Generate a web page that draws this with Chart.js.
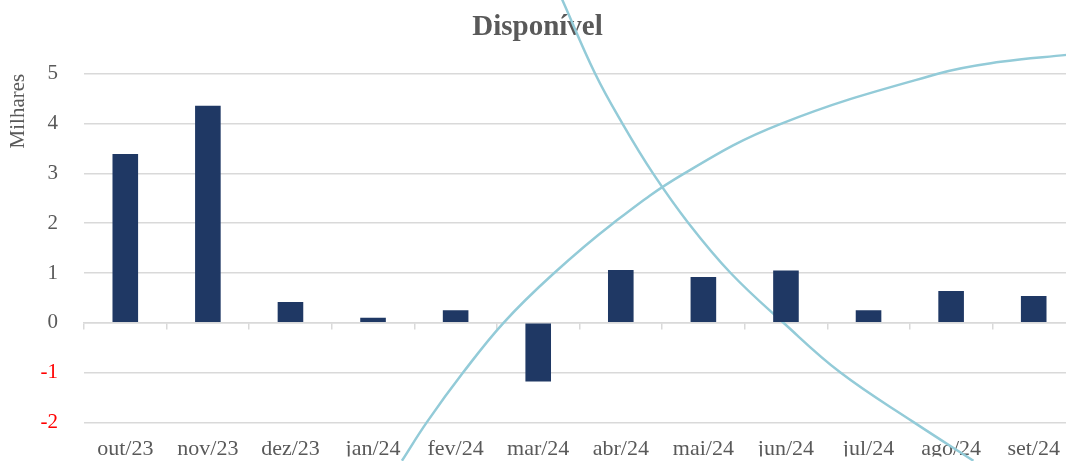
<!DOCTYPE html>
<html>
<head>
<meta charset="utf-8">
<script src="https://cdn.jsdelivr.net/npm/chart.js@4"></script>
<style>
  html, body { margin: 0; padding: 0; background: #fff; overflow: hidden; }
  #wrap { position: relative; width: 1075px; height: 461px; }
</style>
</head>
<body>
<div id="wrap"><canvas id="chart"></canvas></div>
<script>
// Chart data

const categories = ['out/23', 'nov/23', 'dez/23', 'jan/24', 'fev/24', 'mar/24',
                    'abr/24', 'mai/24', 'jun/24', 'jul/24', 'ago/24', 'set/24'];
const disponivel = [3.39, 4.36, 0.42, 0.1, 0.25, -1.18, 1.06, 0.92, 1.05, 0.25, 0.64, 0.54];
const yTicks = [-2, -1, 0, 1, 2, 3, 4, 5];

// Decorative curves, x in category units, y in thousands
const curveDownX = [5.29, 5.69, 6.02, 6.39, 6.82, 7.33, 7.97, 8.66, 9.55, 10.27];
const curveDownY = [6.49, 5.0, 4.0, 3.0, 2.0, 1.0, 0.0, -1.0, -2.0, -2.77];
const curveUpX = [3.35, 3.65, 4.09, 4.58, 5.18, 5.9, 6.76, 7.93, 9.84, 10.6, 11.4];
const curveUpY = [-2.77, -2.0, -1.0, 0.0, 0.98, 1.99, 2.99, 3.99, 5.0, 5.24, 5.38];

const textGray = '#595959';
const gridGray = '#d9d9d9';
const negRed = '#ff0000';
const serif = "'Liberation Serif', 'Times New Roman', serif";

function toPoints(xs, ys) {
    return xs.map((x, i) => ({ x: x, y: ys[i] }));
}

function curveDataset(xs, ys) {
    return {
        type: 'line',
        data: toPoints(xs, ys),
        xAxisID: 'xCurve',
        borderColor: '#93cbd8',
        borderWidth: 2.5,
        pointRadius: 0,
        tension: 0.4,
        fill: false,
        clip: false,
        order: 2
    };
}

const ctx = document.getElementById('chart').getContext('2d');

new Chart(ctx, {
    type: 'bar',
    data: {
        labels: categories,
        datasets: [
            {
                label: 'Disponível',
                data: disponivel,
                backgroundColor: '#1f3864',
                barPercentage: 0.31,
                categoryPercentage: 1,
                grouped: false,
                order: 1
            },
            curveDataset(curveDownX, curveDownY),
            curveDataset(curveUpX, curveUpY)
        ]
    },
    options: {
        responsive: true,
        maintainAspectRatio: false,
        animation: false,
        layout: { padding: { left: 0, right: 0, top: 0, bottom: 4 } },
        plugins: {
            legend: { display: false },
            tooltip: { enabled: false },
            title: {
                display: true,
                text: 'Disponível',
                color: textGray,
                font: { family: serif, size: 29, weight: 'bold' },
                padding: { top: 10, bottom: 29 }
            }
        },
        scales: {
            x: {
                offset: true,
                grid: { display: false },
                border: { display: false },
                ticks: {
                    color: textGray,
                    font: { family: serif, size: 22 },
                    padding: 6,
                    maxRotation: 0,
                    autoSkip: false
                },
                afterFit: (scale) => { scale.height = 34; }
            },
            // zero line with small category ticks, like the source
            xZero: {
                type: 'category',
                position: { y: 0 },
                offset: true,
                grid: {
                    offset: true,
                    drawOnChartArea: false,
                    drawTicks: true,
                    tickLength: 6,
                    color: gridGray,
                    lineWidth: 1.5
                },
                border: { display: true, color: gridGray, width: 1.5 },
                ticks: { display: false }
            },
            xCurve: {
                type: 'linear',
                display: false,
                offset: false,
                bounds: 'data',
                min: -0.5,
                max: 11.5
            },
            y: {
                min: yTicks[0],
                max: yTicks[yTicks.length - 1],
                afterBuildTicks: (scale) => {
                    scale.ticks = yTicks.map(v => ({ value: v }));
                },
                afterFit: (scale) => { scale.width = 84; },
                grid: { color: gridGray, lineWidth: 1.5, drawTicks: false },
                border: { display: false },
                ticks: {
                    padding: 26,
                    font: { family: serif, size: 21 },
                    color: yTicks.map(v => v < 0 ? negRed : textGray)
                },
                title: {
                    display: true,
                    text: 'Milhares',
                    align: 'end',
                    color: textGray,
                    font: { family: serif, size: 21 },
                    padding: { top: 6, bottom: 8 }
                }
            }
        }
    }
});
</script>
</body>
</html>
